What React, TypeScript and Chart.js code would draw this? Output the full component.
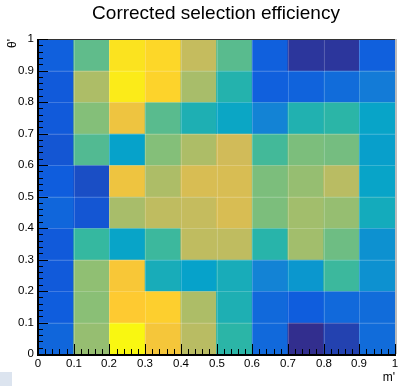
import React, { useEffect, useRef } from "react";
import { Chart, registerables } from "chart.js";

Chart.register(...registerables);

// ---------- data ----------
const chartTitle = "Corrected selection efficiency";
const xAxisTitle = "m'";
const yAxisTitle = "θ'";

const xBinEdges = [0, 0.1, 0.2, 0.3, 0.4, 0.5, 0.6, 0.7, 0.8, 0.9, 1];
const yBinEdges = [0, 0.1, 0.2, 0.3, 0.4, 0.5, 0.6, 0.7, 0.8, 0.9, 1];
const xTickLabels = ["0", "0.1", "0.2", "0.3", "0.4", "0.5", "0.6", "0.7", "0.8", "0.9", "1"];
const yTickLabels = ["0", "0.1", "0.2", "0.3", "0.4", "0.5", "0.6", "0.7", "0.8", "0.9", "1"];

// relative efficiency (palette position 0..1), one array per θ' bin, m' bins left to right
const effTheta00 = [0.16, 0.65, 0.99, 0.85, 0.71, 0.49, 0.17, 0.01, 0.06, 0.18];
const effTheta01 = [0.13, 0.63, 0.88, 0.89, 0.69, 0.45, 0.17, 0.13, 0.17, 0.18];
const effTheta02 = [0.12, 0.64, 0.86, 0.43, 0.37, 0.43, 0.26, 0.33, 0.52, 0.31];
const effTheta03 = [0.12, 0.51, 0.38, 0.52, 0.72, 0.72, 0.48, 0.67, 0.59, 0.31];
const effTheta04 = [0.16, 0.11, 0.68, 0.72, 0.73, 0.77, 0.61, 0.67, 0.65, 0.42];
const effTheta05 = [0.13, 0.09, 0.83, 0.69, 0.77, 0.77, 0.61, 0.65, 0.71, 0.38];
const effTheta06 = [0.11, 0.55, 0.37, 0.62, 0.69, 0.75, 0.53, 0.61, 0.6, 0.36];
const effTheta07 = [0.12, 0.62, 0.83, 0.56, 0.45, 0.39, 0.26, 0.46, 0.49, 0.38];
const effTheta08 = [0.12, 0.69, 0.96, 0.9, 0.68, 0.47, 0.14, 0.15, 0.18, 0.23];
const effTheta09 = [0.14, 0.57, 0.94, 0.91, 0.73, 0.56, 0.14, 0.03, 0.03, 0.14];

const effRows = [
  effTheta00, effTheta01, effTheta02, effTheta03, effTheta04,
  effTheta05, effTheta06, effTheta07, effTheta08, effTheta09,
];

// ROOT kBird palette stops
const birdR = [0.2082, 0.0592, 0.078, 0.0232, 0.1802, 0.5301, 0.8186, 0.9956, 0.9764];
const birdG = [0.1664, 0.3599, 0.5041, 0.6419, 0.7178, 0.7492, 0.7328, 0.7862, 0.9832];
const birdB = [0.5293, 0.8684, 0.8385, 0.7914, 0.6425, 0.4662, 0.3499, 0.1968, 0.0539];

function birdColor(v: number): string {
  const t = Math.max(0, Math.min(1, v)) * (birdR.length - 1);
  const i = Math.min(birdR.length - 2, Math.floor(t));
  const f = t - i;
  const c = (arr: number[]) => Math.round((arr[i] + (arr[i + 1] - arr[i]) * f) * 255);
  return `rgb(${c(birdR)},${c(birdG)},${c(birdB)})`;
}

const FONT = "'Liberation Sans', Arial, Helvetica, sans-serif";

const rootStylePlugin = {
  id: "rootStyle",
  afterDatasetsDraw(chart: any) {
    const { ctx, chartArea: a, scales } = chart;
    const xs = scales.x;
    const ys = scales.y;
    const px = (v: number) => Math.round(xs.getPixelForValue(v));
    const py = (v: number) => Math.round(ys.getPixelForValue(v));
    ctx.save();

    // faint cell borders
    ctx.strokeStyle = "rgba(255,255,255,0.2)";
    ctx.lineWidth = 1;
    ctx.beginPath();
    for (let i = 1; i < xBinEdges.length - 1; i++) {
      const x = px(xBinEdges[i]) + 0.5;
      ctx.moveTo(x, a.top);
      ctx.lineTo(x, a.bottom);
    }
    for (let j = 1; j < yBinEdges.length - 1; j++) {
      const y = py(yBinEdges[j]) + 0.5;
      ctx.moveTo(a.left, y);
      ctx.lineTo(a.right, y);
    }
    ctx.stroke();

    const L = px(0), R = px(1), T = py(1), B = py(0);

    // frame: top & right
    ctx.strokeStyle = "#333";
    ctx.lineWidth = 1;
    ctx.beginPath();
    ctx.moveTo(L, T + 0.5);
    ctx.lineTo(R, T + 0.5);
    ctx.stroke();
    ctx.strokeStyle = "#bbb";
    ctx.lineWidth = 2;
    ctx.beginPath();
    ctx.moveTo(R + 1, T);
    ctx.lineTo(R + 1, B);
    ctx.stroke();

    // axes lines
    ctx.strokeStyle = "#000";
    ctx.lineWidth = 2;
    ctx.beginPath();
    ctx.moveTo(L, T);
    ctx.lineTo(L, B + 1);
    ctx.lineTo(R + 1, B + 1);
    ctx.stroke();

    // ticks
    ctx.lineWidth = 1;
    ctx.strokeStyle = "#000";
    ctx.beginPath();
    for (let k = 0; k <= 50; k++) {
      const v = k / 50;
      const major = k % 5 === 0;
      const len = major ? 10 : 5;
      const x = px(v) + 0.5;
      ctx.moveTo(x, B);
      ctx.lineTo(x, B - len);
      const y = py(v) + 0.5;
      ctx.moveTo(L, y);
      ctx.lineTo(L + len, y);
    }
    ctx.stroke();

    // tick labels
    ctx.fillStyle = "#000";
    ctx.font = `11.5px ${FONT}`;
    ctx.textAlign = "center";
    ctx.textBaseline = "alphabetic";
    xTickLabels.forEach((lab, i) => {
      ctx.fillText(lab, px(xBinEdges[i]), 367);
    });
    ctx.textAlign = "right";
    ctx.textBaseline = "middle";
    yTickLabels.forEach((lab, i) => {
      ctx.fillText(lab, 34, py(yBinEdges[i]));
    });

    // axis titles
    ctx.font = `12px ${FONT}`;
    ctx.textAlign = "right";
    ctx.textBaseline = "alphabetic";
    ctx.fillText(xAxisTitle, R, 381);
    ctx.save();
    ctx.translate(16, T);
    ctx.rotate(-Math.PI / 2);
    ctx.textAlign = "right";
    ctx.fillText(yAxisTitle, 0, 0);
    ctx.restore();

    // title
    ctx.font = `19px ${FONT}`;
    ctx.textAlign = "center";
    ctx.textBaseline = "alphabetic";
    ctx.fillText(chartTitle, 216, 19);

    ctx.restore();
  },
};

export default function App() {
  const canvasRef = useRef<HTMLCanvasElement | null>(null);

  useEffect(() => {
    const canvas = canvasRef.current;
    if (!canvas) return;

    const points: any[] = [];
    const colors: string[] = [];
    effRows.forEach((row, j) => {
      row.forEach((v, i) => {
        points.push({
          x: (xBinEdges[i] + xBinEdges[i + 1]) / 2,
          y: [yBinEdges[j], yBinEdges[j + 1]],
        });
        colors.push(birdColor(v));
      });
    });

    const chart = new Chart(canvas, {
      type: "bar",
      data: {
        datasets: [
          {
            data: points,
            backgroundColor: colors,
            borderWidth: 0,
            barPercentage: 1,
            categoryPercentage: 1,
          } as any,
        ],
      },
      options: {
        responsive: false,
        animation: false,
        events: [],
        layout: { padding: { left: 38, right: 16, top: 39, bottom: 33 } },
        plugins: {
          legend: { display: false },
          title: { display: false },
          tooltip: { enabled: false },
        },
        scales: {
          x: { type: "linear", min: 0, max: 1, display: false, offset: false },
          y: { type: "linear", min: 0, max: 1, display: false },
        },
      },
      plugins: [rootStylePlugin],
    });

    return () => chart.destroy();
  }, []);

  return (
    <div style={{ position: "fixed", left: 0, top: 0, width: 411, height: 387, background: "#fff" }}>
      <canvas ref={canvasRef} width={411} height={387} style={{ width: 411, height: 387, display: "block" }} />
      <div style={{ position: "absolute", left: 0, top: 372, width: 12, height: 14, background: "#dce4ef" }} />
    </div>
  );
}
